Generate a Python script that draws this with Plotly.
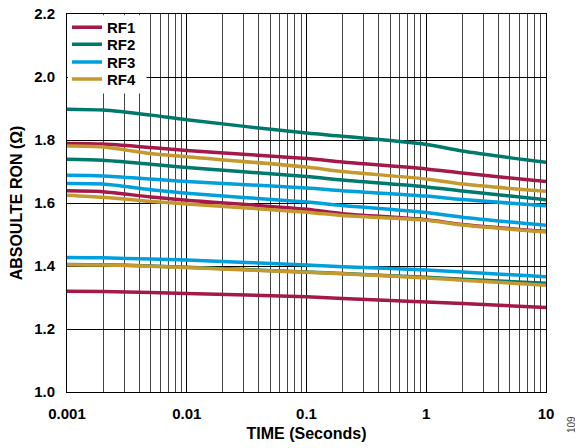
import plotly.graph_objects as go

time_s = [0.001, 0.002, 0.005, 0.01, 0.1, 0.2, 1, 2, 10]

rf1_a = [1.789, 1.787, 1.776, 1.767, 1.741, 1.730, 1.708, 1.695, 1.668]
rf1_b = [1.639, 1.636, 1.619, 1.609, 1.580, 1.566, 1.547, 1.532, 1.510]
rf1_c = [1.320, 1.319, 1.316, 1.313, 1.302, 1.297, 1.286, 1.281, 1.268]

rf2_a = [1.898, 1.895, 1.879, 1.864, 1.822, 1.812, 1.786, 1.765, 1.729]
rf2_b = [1.739, 1.736, 1.723, 1.713, 1.684, 1.673, 1.651, 1.638, 1.610]
rf2_c = [1.405, 1.404, 1.400, 1.396, 1.381, 1.376, 1.364, 1.358, 1.345]

rf3_a = [1.688, 1.686, 1.676, 1.668, 1.648, 1.639, 1.622, 1.611, 1.591]
rf3_b = [1.662, 1.660, 1.642, 1.631, 1.603, 1.592, 1.570, 1.555, 1.529]
rf3_c = [1.427, 1.426, 1.422, 1.419, 1.403, 1.398, 1.387, 1.381, 1.366]

rf4_a = [1.781, 1.778, 1.757, 1.747, 1.714, 1.700, 1.676, 1.660, 1.637]
rf4_b = [1.625, 1.618, 1.605, 1.597, 1.571, 1.560, 1.545, 1.530, 1.508]
rf4_c = [1.404, 1.403, 1.399, 1.395, 1.380, 1.375, 1.362, 1.355, 1.339]

series_names = ["RF1", "RF2", "RF3", "RF4"]
series_colors = ["#A3194A", "#00796D", "#00A0DC", "#C49A2E"]
series_lines = [[rf1_a, rf1_b, rf1_c], [rf2_a, rf2_b, rf2_c],
                [rf3_a, rf3_b, rf3_c], [rf4_a, rf4_b, rf4_c]]

x_tick_vals = [0.001, 0.01, 0.1, 1, 10]
x_tick_text = ["0.001", "0.01", "0.1", "1", "10"]

FONT = "Arial, 'Liberation Sans', sans-serif"
legend_ids = ["legend", "legend2", "legend3", "legend4"]
legend_y = [1.008, 0.963, 0.916, 0.871]

fig = go.Figure()
for k, (name, color, lines) in enumerate(zip(series_names, series_colors, series_lines)):
    for i, ys in enumerate(lines):
        fig.add_trace(go.Scatter(
            x=time_s, y=ys, mode="lines", name=name,
            legend=legend_ids[k], legendgroup=name, showlegend=(i == 0),
            line=dict(color=color, width=3.5, shape="spline", smoothing=0.8),
        ))

legend_style = dict(
    x=0.0, xanchor="left", yanchor="top",
    bgcolor="rgba(0,0,0,0)", borderwidth=0,
    font=dict(family=FONT, size=15, color="black", weight="bold"),
    itemwidth=30, tracegroupgap=0,
)

fig.update_layout(
    width=575, height=440,
    margin=dict(l=59, r=37, t=6, b=56, autoexpand=False),
    paper_bgcolor="white", plot_bgcolor="white",
    font=dict(family=FONT, color="black"),
    showlegend=True,
    **{lid: dict(y=ly, **legend_style) for lid, ly in zip(legend_ids, legend_y)},
)

# white backing box behind the legend (hides grid lines like the reference)
fig.add_shape(
    type="rect", xref="paper", yref="paper",
    x0=0.002, x1=0.166, y0=0.79, y1=0.997,
    fillcolor="white", line=dict(width=0), layer="above",
)

fig.update_xaxes(
    type="log", range=[-3, 1], automargin=False,
    tickvals=x_tick_vals, ticktext=x_tick_text,
    showgrid=True, gridcolor="black", gridwidth=1,
    minor=dict(dtick="D1", showgrid=True, gridcolor="#444444", gridwidth=1, ticks=""),
    showline=True, linecolor="black", linewidth=1, mirror=True,
    ticks="outside", ticklen=8, tickcolor="rgba(0,0,0,0)",
    ticklabeloverflow="allow",
    tickfont=dict(family=FONT, size=15, color="black", weight="bold"),
    title=dict(text="TIME (Seconds)", standoff=6,
               font=dict(family=FONT, size=16, color="black", weight="bold")),
    zeroline=False,
)

fig.update_yaxes(
    range=[1.0, 2.2], dtick=0.2, tick0=1.0, tickformat=".1f", automargin=False,
    showgrid=True, gridcolor="black", gridwidth=1,
    showline=True, linecolor="black", linewidth=1, mirror=True,
    ticks="outside", ticklen=8, tickcolor="rgba(0,0,0,0)",
    ticklabeloverflow="allow",
    tickfont=dict(family=FONT, size=15, color="black", weight="bold"),
    title=dict(text="ABSOULTE RON (Ω)",
               font=dict(family=FONT, size=16, color="black", weight="bold")),
    zeroline=False,
)

fig.add_annotation(
    text="109", x=1.0, y=0.0, xref="paper", yref="paper",
    xshift=33, yshift=-43, showarrow=False, textangle=-90,
    font=dict(family=FONT, size=10, color="#444444"),
)

fig.write_html("out.html")
